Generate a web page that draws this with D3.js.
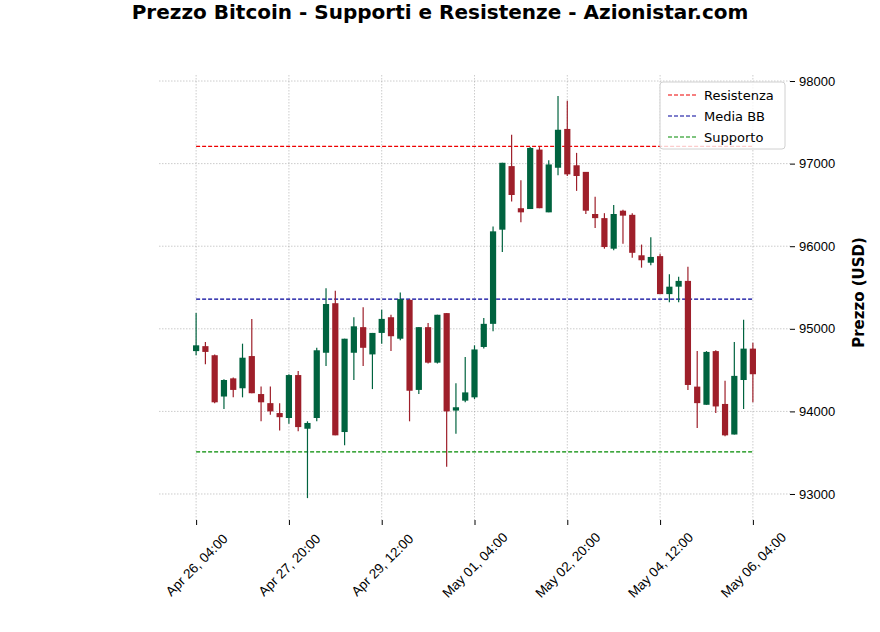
<!DOCTYPE html>
<html>
<head>
<meta charset="utf-8">
<script src="https://d3js.org/d3.v7.min.js"></script>
<style>
  body { margin: 0; background: #fff; font-family: "DejaVu Sans", sans-serif; }
</style>
</head>
<body>
<div id="chart-area"></div>
<script>
// 4-hour candles, starting Apr 26 04:00
var startTime = new Date(2025, 3, 26, 4, 0)
var opens  = [94730,94790,94680,94180,94400,94280,94670,94210,94100,93980,
              93920,94440,93790,93920,94710,95310,93750,94710,95020,94690,
              94950,95140,94880,95350,94260,95020,94590,95190,94010,94130,
              94170,94780,95060,96200,96970,96460,96450,97170,96410,96950,
              97420,96980,96900,96390,96340,95970,96430,96380,95890,95800,
              95880,95420,95510,95580,94300,94080,94730,94090,93720,94380,94760]
var closes = [94800,94720,94110,94380,94260,94650,94220,94110,94000,93930,
              94440,93810,93860,94740,95300,93710,94880,95030,94770,94950,
              95120,94910,95360,94250,95020,94590,95170,94000,94050,94230,
              94750,95060,96180,97010,96620,96410,97190,96460,96990,97410,
              96870,96850,96430,96340,95990,96390,96370,95920,95830,95870,
              95420,95510,95580,94320,94100,94720,94060,93710,94430,94760,94450]
var highs  = [95190,94840,94690,94390,94410,94820,95120,94300,94300,94100,
              94450,94490,93880,94770,95490,95460,94880,95140,95260,94950,
              95230,95170,95440,95360,95020,95070,95170,95190,94340,94660,
              94800,95130,96240,97010,97350,96800,97200,97200,97040,97820,
              97760,97130,96900,96600,96400,96500,96440,96400,96020,96110,
              95910,95660,95630,95750,94730,94730,94740,94370,94840,95110,94830]
var lows   = [94680,94570,94100,94030,94170,94170,94220,93880,93960,93770,
              93850,93760,92950,93880,94550,93710,93590,94380,94550,94270,
              94820,94730,94860,93880,94210,94580,94580,93330,93730,94110,
              94150,94760,94970,95930,96540,96290,96450,96460,96410,96860,
              96850,96670,96390,96220,95970,95950,96030,95860,95740,95770,
              95420,95320,95320,94260,93800,94080,93980,93700,93720,94030,94110]
var levels = [
    {name: "Resistenza", value: 97210, color: "#ee0000"},
    {name: "Media BB",   value: 95360, color: "#000099"},
    {name: "Supporto",   value: 93510, color: "#008a00"}
]
var yTicks = [93000, 94000, 95000, 96000, 97000, 98000]

var data = opens.map(function(o, i){
    return {t: new Date(startTime.getTime() + i * 4 * 3600 * 1000),
            o: o, c: closes[i], h: highs[i], l: lows[i]}
})
var tLast = data[data.length - 1].t
var tickTimes = d3.range(0, 7).map(i => new Date(startTime.getTime() + i * 40 * 3600 * 1000))

var W = 880, H = 632
var margin = {top: 75, right: 90, bottom: 112, left: 159}
var width = W - margin.left - margin.right,
    height = H - margin.top - margin.bottom

var svg = d3.select("#chart-area").append("svg")
    .attr("width", W).attr("height", H)
    .style("font-family", "DejaVu Sans, sans-serif")

svg.append("text")
    .attr("x", 440).attr("y", 19)
    .attr("text-anchor", "middle")
    .attr("font-size", 20).attr("font-weight", "bold")
    .text("Prezzo Bitcoin - Supporti e Resistenze - Azionistar.com")

var g = svg.append("g").attr("transform", "translate(" + margin.left + "," + margin.top + ")")

var pad = 16 * 3600 * 1000
var x = d3.scaleTime()
    .domain([new Date(startTime.getTime() - pad), new Date(tLast.getTime() + pad)])
    .range([0, width])
var y = d3.scaleLinear().domain([92685, 98073]).range([height, 0])

// grid
g.append("g").selectAll("line").data(tickTimes).enter().append("line")
    .attr("x1", d => x(d)).attr("x2", d => x(d))
    .attr("y1", 0).attr("y2", height)
    .attr("stroke", "#999").attr("stroke-width", 0.5).attr("stroke-dasharray", "1.5,1.5")
g.append("g").selectAll("line").data(yTicks).enter().append("line")
    .attr("x1", 0).attr("x2", width)
    .attr("y1", d => y(d)).attr("y2", d => y(d))
    .attr("stroke", "#999").attr("stroke-width", 0.5).attr("stroke-dasharray", "1.5,1.5")

// y axis on the right
var yAxis = g.append("g")
    .attr("transform", "translate(" + width + ",0)")
    .call(d3.axisRight(y).tickValues(yTicks).tickSize(5).tickPadding(4).tickFormat(d3.format("d")))
yAxis.select(".domain").remove()
yAxis.selectAll("text").attr("font-size", 13).attr("fill", "#000")

svg.append("text")
    .attr("transform", "translate(864," + (margin.top + height / 2 - 5) + ") rotate(-90)")
    .attr("text-anchor", "middle")
    .attr("font-size", 15).attr("font-weight", "bold")
    .text("Prezzo (USD)")

// x axis
var fmt = d3.timeFormat("%b %d, %H:%M")
var xAxis = g.append("g")
    .attr("transform", "translate(0," + height + ")")
    .call(d3.axisBottom(x).tickValues(tickTimes).tickSize(5).tickFormat(fmt))
xAxis.select(".domain").remove()
xAxis.selectAll("text")
    .attr("font-size", 13.5).attr("fill", "#000")
    .attr("text-anchor", "middle")
    .attr("y", 0).attr("dy", "0.35em")
    .attr("transform", "translate(0,45) rotate(-45)")

// levels
g.append("g").selectAll("line").data(levels).enter().append("line")
    .attr("x1", x(startTime)).attr("x2", x(tLast))
    .attr("y1", d => y(d.value)).attr("y2", d => y(d.value))
    .attr("stroke", d => d.color).attr("stroke-width", 1.2).attr("stroke-dasharray", "4,2")

// candles
var up = "#00633f", down = "#9e1f2a"
var bw = 6.2
var candles = g.append("g").selectAll("g").data(data).enter().append("g")
candles.append("line")
    .attr("x1", d => x(d.t)).attr("x2", d => x(d.t))
    .attr("y1", d => y(d.h)).attr("y2", d => y(d.l))
    .attr("stroke", d => d.c >= d.o ? up : down).attr("stroke-width", 1.2)
candles.append("rect")
    .attr("x", d => x(d.t) - bw / 2).attr("width", bw)
    .attr("y", d => y(Math.max(d.o, d.c)))
    .attr("height", d => Math.max(1, Math.abs(y(d.o) - y(d.c))))
    .attr("fill", d => d.c >= d.o ? up : down)

// legend
var lg = g.append("g").attr("transform", "translate(" + (width - 130) + ",7)")
lg.append("rect").attr("width", 125).attr("height", 67).attr("rx", 3)
    .attr("fill", "#fff").attr("fill-opacity", 0.8).attr("stroke", "#d0d0d0")
var items = lg.selectAll("g").data(levels).enter().append("g")
    .attr("transform", (d, i) => "translate(8," + (13 + i * 21) + ")")
items.append("line").attr("x1", 0).attr("x2", 28)
    .attr("stroke", d => d.color).attr("stroke-width", 1.2).attr("stroke-dasharray", "4,2")
items.append("text").attr("x", 36).attr("y", 4.5)
    .attr("font-size", 13).text(d => d.name)
</script>
</body>
</html>
